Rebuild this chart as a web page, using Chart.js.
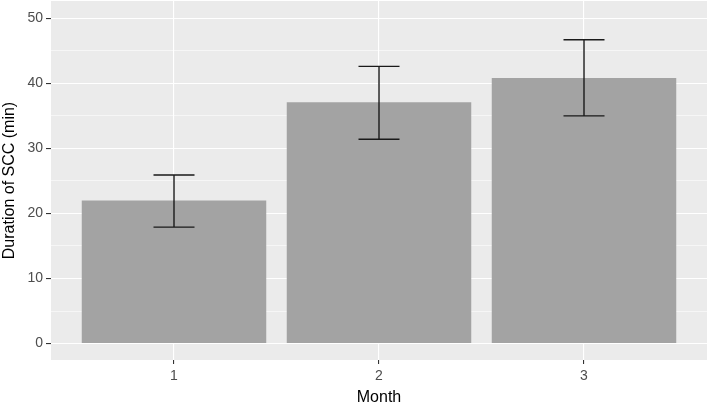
<!DOCTYPE html>
<html>
<head>
<meta charset="utf-8">
<script src="https://cdn.jsdelivr.net/npm/chart.js@4/dist/chart.umd.min.js"></script>
<style>
  html, body { margin: 0; padding: 0; background: #fff; }
  #wrap { width: 709px; height: 405px; }
</style>
</head>
<body>
<div id="wrap"><canvas id="grafico"></canvas></div>
<script>
// Datos
const months = [1, 2, 3];
const duration = [22.0, 37.1, 40.8];
const errLow = [17.9, 31.4, 35.0];
const errHigh = [25.9, 42.6, 46.7];
const yTicks = [0, 10, 20, 30, 40, 50];
const yMinor = [5, 15, 25, 35, 45];

const textGrey = '#4d4d4d';
const fontFam = '"Liberation Sans", Arial, sans-serif';

// fondo gris del panel
const panelBg = {
  id: 'panelBg',
  beforeDraw(chart) {
    const a = chart.chartArea, c = chart.ctx;
    c.save();
    c.fillStyle = '#ebebeb';
    c.fillRect(a.left, a.top, a.right - a.left, a.bottom - a.top);
    c.restore();
  }
};

// barras de error
const errorBars = {
  id: 'errorBars',
  afterDatasetsDraw(chart) {
    const x = chart.scales.x, y = chart.scales.y, c = chart.ctx;
    c.save();
    c.strokeStyle = '#1a1a1a';
    c.lineWidth = 1.4;
    months.forEach((m, i) => {
      const xc = x.getPixelForValue(m);
      const x0 = x.getPixelForValue(m - 0.1), x1 = x.getPixelForValue(m + 0.1);
      const yl = y.getPixelForValue(errLow[i]), yh = y.getPixelForValue(errHigh[i]);
      c.beginPath();
      c.moveTo(x0, yh); c.lineTo(x1, yh);
      c.moveTo(xc, yh); c.lineTo(xc, yl);
      c.moveTo(x0, yl); c.lineTo(x1, yl);
      c.stroke();
    });
    c.restore();
  }
};

const ctx = document.getElementById('grafico').getContext('2d');
const chart = new Chart(ctx, {
  type: 'bar',
  data: {
    datasets: [{
      data: months.map((m, i) => ({ x: m, y: duration[i] })),
      backgroundColor: '#a3a3a3',
      borderWidth: 0,
      barPercentage: 0.9,
      categoryPercentage: 1.0
    }]
  },
  plugins: [panelBg, errorBars],
  options: {
    responsive: true,
    maintainAspectRatio: false,
    animation: false,
    layout: { padding: { top: 1, right: 2, left: 0, bottom: 0 } },
    plugins: { legend: { display: false }, tooltip: { enabled: false } },
    scales: {
      x: {
        type: 'linear',
        offset: false,
        min: 0.4,
        max: 3.6,
        afterBuildTicks: (s) => { s.ticks = months.map(v => ({ value: v })); },
        afterFit: (s) => { s.height = 45; s.paddingLeft = 0; s.paddingRight = 0; },
        grid: { offset: false, color: '#ffffff', lineWidth: 1.1, tickColor: '#333333', tickLength: 4, tickWidth: 1.1 },
        border: { display: false },
        ticks: { color: textGrey, font: { family: fontFam, size: 14 }, padding: 4, maxRotation: 0 },
        title: { display: true, text: 'Month', color: '#000', font: { family: fontFam, size: 16 }, padding: { top: 0, bottom: -2 } }
      },
      y: {
        min: -2.53,
        max: 52.65,
        afterBuildTicks: (s) => {
          s.ticks = yTicks.concat(yMinor).sort((a, b) => a - b).map(v => ({ value: v }));
        },
        afterFit: (s) => { s.width = 51; s.paddingTop = 0; s.paddingBottom = 0; },
        grid: {
          color: '#ffffff',
          lineWidth: (c) => yTicks.includes(c.tick.value) ? 1.1 : 0.55,
          tickColor: (c) => yTicks.includes(c.tick.value) ? '#333333' : 'rgba(0,0,0,0)',
          tickLength: 5,
          tickWidth: 1.1
        },
        border: { display: false },
        ticks: {
          color: textGrey,
          font: { family: fontFam, size: 14 },
          padding: 3,
          callback: (v) => yTicks.includes(v) ? String(v) : ''
        },
        title: { display: true, text: 'Duration of SCC (min)', color: '#000', font: { family: fontFam, size: 16 }, padding: { top: 0, bottom: 0 } }
      }
    }
  }
});
</script>
</body>
</html>
